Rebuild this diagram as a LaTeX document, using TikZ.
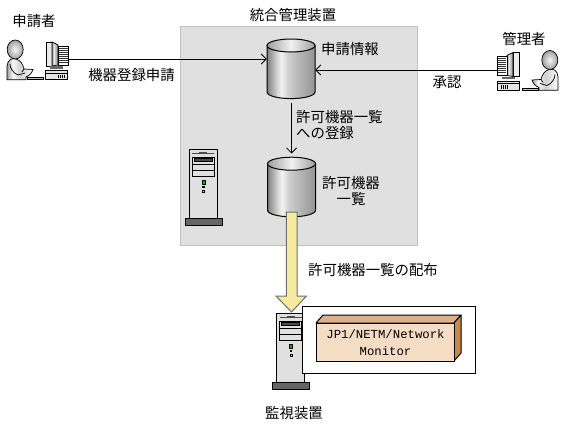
\documentclass[tikz,border=0pt]{standalone}
\usepackage{fontspec}
\setmainfont{Noto Sans CJK JP}
\setmonofont{Liberation Mono}
\usetikzlibrary{arrows.meta,calc}
\pgfdeclarehorizontalshading{cylside}{100bp}{rgb(0bp)=(.5,.5,.5);rgb(25bp)=(.5,.5,.5);rgb(36bp)=(.85,.85,.85);rgb(40bp)=(.95,.95,.95);rgb(48bp)=(.8,.8,.8);rgb(75bp)=(.58,.58,.58);rgb(100bp)=(.58,.58,.58)}
\pgfdeclarehorizontalshading{cyltop}{100bp}{rgb(0bp)=(.62,.62,.62);rgb(25bp)=(.62,.62,.62);rgb(50bp)=(.95,.95,.95);rgb(75bp)=(.62,.62,.62);rgb(100bp)=(.62,.62,.62)}
\pgfdeclarehorizontalshading{bodysh}{100bp}{rgb(0bp)=(.62,.62,.62);rgb(25bp)=(.62,.62,.62);rgb(36bp)=(.98,.98,.98);rgb(50bp)=(.82,.82,.82);rgb(75bp)=(.98,.98,.98);rgb(100bp)=(.98,.98,.98)}
\definecolor{panelgray}{HTML}{E0E0E0}
\definecolor{panelline}{HTML}{C0C0C0}
\definecolor{yellowfill}{HTML}{F5EBA0}
\definecolor{arrowline}{HTML}{707070}
\definecolor{frontc}{HTML}{F5DCC5}
\definecolor{topc}{HTML}{DCB088}
\definecolor{sidec}{HTML}{C48A50}
\tikzset{
  lbl/.style={font=\fontsize{14.4}{16}\selectfont,inner sep=0pt,text=black},
  conn/.style={draw=black,line width=1pt,-{Straight Barb[length=5pt,width=10pt,line width=.8pt]}},
  thick1/.style={line width=1pt,draw=black},
  cylinderpic/.pic={
    \path[shading=cylside,thick1] (-24,-23.3) -- (-24,23.3) arc[start angle=180,end angle=0,x radius=24,y radius=6.5] -- (24,-23.3) -- cycle;
    \path[shading=cyltop,thick1] (0,-23.3) ellipse[x radius=24,y radius=6.5];
  },
  serverpic/.pic={
    \filldraw[thick1,fill=black!12] (0,0) rectangle (28,69);
    \filldraw[thick1,fill=black!60] (-4,69) rectangle (33,76);
    \draw[line width=.7pt,black!70] (3,4) -- (25,4);
    \fill[black!70] (10,3) rectangle (18,5);
    \draw[line width=.8pt] (3,8) rectangle (25,27) (3,15) -- (25,15) (3,21) -- (25,21);
    \filldraw[line width=.5pt,draw=black,fill=black!70] (5,9.5) rectangle (23,12.5);
    \filldraw[line width=.5pt,draw=black,fill=green!70!black] (13,31.5) rectangle (16,35);
    \fill (13.2,37) rectangle (15.8,39);
    \draw[line width=.6pt] (13.5,41.5) rectangle (15.5,43.5);
  },
  personpic/.pic={
    \path[shading=bodysh,draw=black,line width=.7pt] (7,79.7) -- (7,66) .. controls (7.5,60) and (12,57.5) .. (16,59) .. controls (20,60) and (23,64) .. (24,69) -- (33,69.5) .. controls (32,73) and (29,76) .. (26,77) -- (26,79.7) -- cycle;
    \draw[line width=.7pt] (10,64) .. controls (10,68) and (13,73) .. (18,75) -- (25,73) (24,69) -- (22,72);
    \shade[inner color=black!3,outer color=black!38,draw=black,line width=.7pt] (15.2,49.5) ellipse[x radius=8,y radius=9.5];
    \filldraw[fill=black!25,line width=.7pt] (27,77.5) rectangle (43,79.7);
    \filldraw[fill=black!8,line width=.7pt] (46,42) -- (52,42) -- (52,66) -- (46,66) -- cycle;
    \path[shading=cylside,draw=black,line width=.7pt] (52,42) -- (58,45) -- (58,65) -- (52,66) -- cycle;
    \filldraw[fill=white,line width=.7pt] (58,46) rectangle (68,65);
    \foreach \yy in {48,50,52,54,56,58,60,62} \draw[line width=.8pt,black!80] (59,\yy) -- (67.5,\yy);
    \fill[black!60] (50,66) rectangle (63,68.5);
    \filldraw[fill=black!10,line width=.7pt] (45.5,70.5) rectangle (67.5,79.7);
    \draw[line width=.7pt] (46,73) -- (67,73);
    \foreach \xx in {58,60,62,64} \draw[line width=.7pt] (\xx,74.5) -- (\xx,78);
  }
}
\begin{document}
\begin{tikzpicture}[x=1pt,y=-1pt]
\useasboundingbox (0,0) rectangle (564,431);
\fill[white] (0,0) rectangle (564,431);
\node[draw=panelline,fill=panelgray,line width=1pt,inner sep=0pt,minimum width=237.5pt,minimum height=219pt,anchor=north west] (panel) at (179.7,26.3) {};

\node[lbl] (lapplicant) at (34,21) {申請者};
\node[lbl] (lbunit) at (293,15) {統合管理装置};
\node[lbl] (lreq) at (131.5,75) {機器登録申請};
\node[lbl] (linfo) at (350,49) {申請情報};
\node[lbl,align=left,anchor=north west] (lreg) at (296,110) {許可機器一覧\\への登録};
\node[lbl] (lapp) at (447,82) {承認};
\node[lbl] (ladmin) at (524,39) {管理者};
\node[lbl,align=center] (llist) at (351,191) {許可機器\\一覧};
\node[lbl] (ldist) at (373,270) {許可機器一覧の配布};
\node[lbl] (lmon) at (294,413) {監視装置};

\node[inner sep=0pt,minimum width=23pt,minimum height=38pt,anchor=north west] (pcleft) at (45,42) {};
\node[inner sep=0pt,minimum width=23pt,minimum height=38pt,anchor=north west] (pcright) at (497,52.5) {};
\node[inner sep=0pt,minimum width=48pt,minimum height=59pt,anchor=north] (cyla) at (291,39) {};
\node[inner sep=0pt,minimum width=48pt,minimum height=60pt,anchor=north] (cylb) at (291.5,157) {};

\pic at (0,0) {personpic};
\pic[xscale=-1] at (565,10.5) {personpic};
\pic at (291,68.8) {cylinderpic};
\pic at (291.5,187) {cylinderpic};
\pic at (189,149) {serverpic};
\pic at (276.5,313) {serverpic};

\draw[conn] (pcleft.east |- 0,59) -- (cyla.west |- 0,59);
\draw[conn] (pcright.west |- 0,70) -- (cyla.east |- 0,70);
\draw[conn] ($(cyla.south)+(.5,5)$) -- ($(cylb.north)+(0,-3.5)$);

\coordinate (arrtip) at (291.5,312);
\filldraw[draw=arrowline,fill=yellowfill,line width=1pt,line join=miter] (286.3,212) -- (297,212) -- (297,296) -- (306.5,296) -- (arrtip) -- (276,296) -- (286.3,296) -- cycle;

\node[draw=black,fill=white,line width=1pt,inner sep=0pt,minimum width=173pt,minimum height=67pt,anchor=north west] (prodbg) at (301.5,305.5) {};
\filldraw[fill=topc,line width=1pt,line join=round] (316,323) -- (323,315) -- (461,315) -- (454,323) -- cycle;
\filldraw[fill=sidec,line width=1pt,line join=round] (454,323) -- (461,315) -- (461,353) -- (454,361) -- cycle;
\node[draw=black,fill=frontc,line width=1pt,inner sep=0pt,minimum width=138pt,minimum height=38pt,anchor=north west,align=center,font=\ttfamily\fontsize{12.3}{17}\selectfont] (prod) at (316,323) {JP1/NETM/Network\\Monitor};
\end{tikzpicture}
\end{document}
